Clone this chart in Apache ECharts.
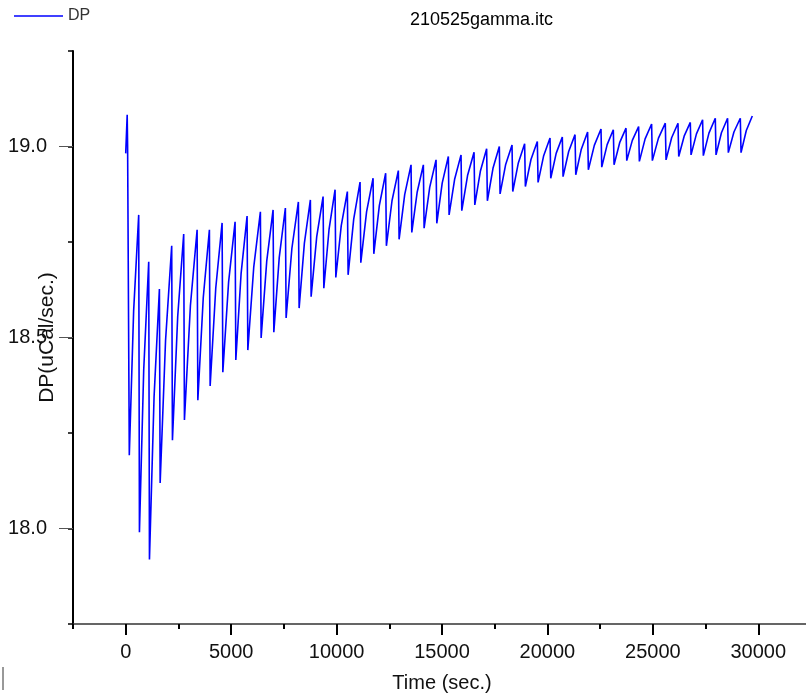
<!DOCTYPE html>
<html>
<head>
<meta charset="utf-8">
<script src="https://cdn.jsdelivr.net/npm/echarts@6/dist/echarts.min.js"></script>
<style>
html,body{margin:0;padding:0;overflow:hidden;background:#fff;}
#chart{width:811px;height:695px;}
</style>
</head>
<body>
<div id="chart"></div>
<script>
// ---- data (time in sec., DP in uCal/sec.) ----
const preTimes  = [0, 40, 70, 90, 125];
const preValues = [18.982, 18.985, 19.083, 19.000, 19.000];

const injTimes = [135, 616, 1091, 1598, 2181, 2750, 3386, 3969, 4571, 5187,
  5756, 6387, 6989, 7572, 8189, 8758, 9360, 9929, 10512, 11114,
  11731, 12328, 12930, 13532, 14116, 14718, 15301, 15903, 16520, 17117,
  17719, 18321, 18919, 19521, 20123, 20706, 21309, 21906, 22541, 23125,
  23727, 24325, 24941, 25590, 26192, 26776, 27359, 27961, 28544, 29147];
const endTime = 29716;

const troughs = [18.192, 17.990, 17.919, 18.119, 18.231, 18.284, 18.336, 18.373, 18.409, 18.441,
  18.467, 18.499, 18.514, 18.551, 18.577, 18.607, 18.629, 18.657, 18.664, 18.696,
  18.719, 18.740, 18.757, 18.775, 18.786, 18.799, 18.821, 18.832, 18.847, 18.858,
  18.876, 18.882, 18.895, 18.906, 18.917, 18.921, 18.926, 18.939, 18.946, 18.952,
  18.963, 18.961, 18.963, 18.965, 18.974, 18.978, 18.976, 18.978, 18.984, 18.984];

const mids = [18.569, 18.415, 18.344, 18.492, 18.555, 18.583, 18.604, 18.629, 18.645, 18.667,
  18.684, 18.700, 18.709, 18.733, 18.747, 18.764, 18.784, 18.792, 18.810, 18.829,
  18.846, 18.858, 18.874, 18.881, 18.893, 18.904, 18.915, 18.924, 18.935, 18.943,
  18.953, 18.957, 18.966, 18.976, 18.982, 18.987, 18.993, 19.003, 19.005, 19.010,
  19.016, 19.020, 19.022, 19.023, 19.027, 19.033, 19.035, 19.036, 19.038, 19.042];

const peaks = [18.821, 18.698, 18.627, 18.740, 18.771, 18.782, 18.782, 18.800, 18.803, 18.818,
  18.829, 18.834, 18.839, 18.855, 18.860, 18.869, 18.887, 18.882, 18.907, 18.917,
  18.930, 18.937, 18.952, 18.952, 18.965, 18.974, 18.978, 18.985, 18.994, 19.000,
  19.004, 19.007, 19.013, 19.022, 19.025, 19.031, 19.038, 19.046, 19.044, 19.048,
  19.052, 19.059, 19.061, 19.061, 19.063, 19.070, 19.074, 19.074, 19.074, 19.080];

const xMajorTicks = [0, 5000, 10000, 15000, 20000, 25000, 30000];
const yMajorTicks = [18.0, 18.5, 19.0];

// ---- build the trace ----
const trace = [];
preTimes.forEach((t, i) => trace.push([t, preValues[i]]));
let prev = preValues[preValues.length - 1];
injTimes.forEach((t, i) => {
  const next = i + 1 < injTimes.length ? injTimes[i + 1] : endTime;
  trace.push([t, prev]);
  trace.push([t + 35, troughs[i]]);
  trace.push([(t + next) / 2, mids[i]]);
  trace.push([next, peaks[i]]);
  prev = peaks[i];
});

const FONT = 'Liberation Sans, Arial, sans-serif';
const chart = echarts.init(document.getElementById('chart'));
chart.setOption({
  animation: false,
  backgroundColor: '#fff',
  title: {
    text: '210525gamma.itc', left: 410, top: 11, padding: 0,
    textStyle: {fontSize: 18, fontWeight: 'normal', color: '#000', fontFamily: FONT}
  },
  legend: {
    data: ['DP'], left: 14, top: 8, padding: 0, icon: 'rect',
    itemWidth: 49, itemHeight: 1.5,
    textStyle: {fontSize: 16, color: '#333', fontFamily: FONT}
  },
  grid: {left: 73, right: 0, top: 51, bottom: 71, outerBoundsMode: 'none', containLabel: false},
  xAxis: [{
    type: 'value', min: -2500, max: 32500, interval: 2500,
    axisLine: {onZero: false, lineStyle: {color: '#333', width: 1.5}},
    axisTick: {length: 5, lineStyle: {color: '#000', width: 2}},
    axisLabel: {show: false}, splitLine: {show: false}
  }, {
    type: 'value', min: -2500, max: 32500, position: 'bottom',
    axisLine: {show: false, onZero: false},
    axisTick: {customValues: xMajorTicks, length: 11, lineStyle: {color: '#000', width: 2}},
    axisLabel: {customValues: xMajorTicks, formatter: v => String(v), fontSize: 20, color: '#111', margin: 18, fontFamily: FONT},
    splitLine: {show: false},
    name: 'Time (sec.)', nameLocation: 'middle', nameGap: 49, nameMoveOverlap: false,
    nameTextStyle: {fontSize: 20, color: '#111', fontFamily: FONT}
  }],
  yAxis: [{
    type: 'value', min: 17.75, max: 19.25, interval: 0.25,
    axisLine: {show: true, onZero: false, lineStyle: {color: '#000', width: 2}},
    axisTick: {show: true, length: 5, lineStyle: {color: '#000', width: 1.5}},
    axisLabel: {show: false}, splitLine: {show: false}
  }, {
    type: 'value', min: 17.75, max: 19.25, position: 'left',
    axisLine: {show: false, onZero: false},
    axisTick: {show: true, customValues: yMajorTicks, length: 14, lineStyle: {color: '#555', width: 1}},
    axisLabel: {customValues: yMajorTicks, formatter: v => v.toFixed(1), fontSize: 20, color: '#111', margin: 26, fontFamily: FONT},
    splitLine: {show: false},
    name: 'DP(uCal/sec.)', nameLocation: 'middle', nameGap: 15, nameRotate: 90, nameMoveOverlap: false,
    nameTextStyle: {fontSize: 21, color: '#111', fontFamily: FONT}
  }],
  graphic: [{
    type: 'line', shape: {x1: 3, y1: 667, x2: 3, y2: 690},
    style: {stroke: '#333', lineWidth: 1}
  }],
  series: [{
    name: 'DP', type: 'line', data: trace, xAxisIndex: 0, yAxisIndex: 0,
    showSymbol: false, symbol: 'none',
    lineStyle: {color: '#0000ff', width: 1.6},
    itemStyle: {color: '#0000ff'}
  }]
});
</script>
</body>
</html>
